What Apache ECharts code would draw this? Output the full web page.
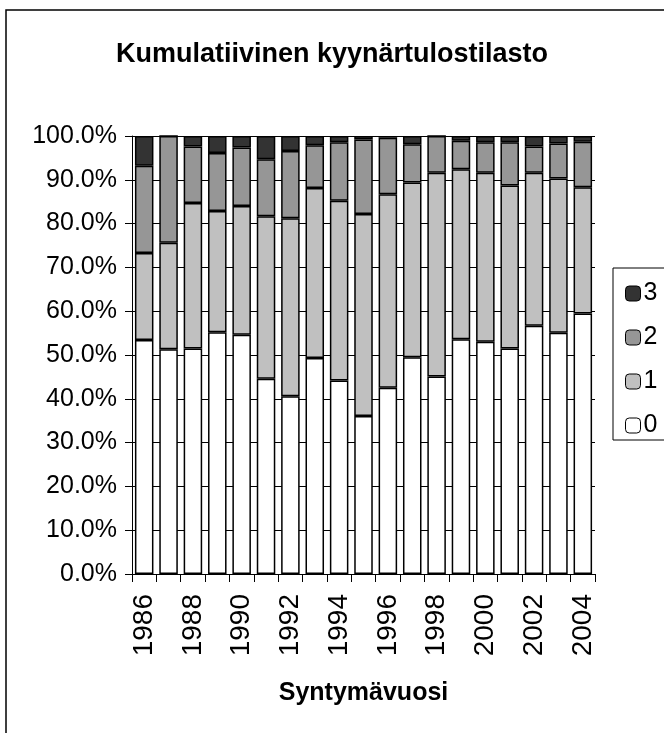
<!DOCTYPE html>
<html>
<head>
<meta charset="utf-8">
<script src="https://cdn.jsdelivr.net/npm/echarts@6/dist/echarts.min.js"></script>
<style>html,body{margin:0;padding:0;background:#fff;}#c{width:664px;height:733px;}</style>
</head>
<body>
<div id="c"></div>
<script>
var years = ['1986','1987','1988','1989','1990','1991','1992','1993','1994','1995','1996','1997','1998','1999','2000','2001','2002','2003','2004'];
var s0 = [53.4,51.3,51.5,55.2,54.6,44.6,40.6,49.3,44.2,36.1,42.5,49.5,45.1,53.6,53.0,51.5,56.7,55.1,59.5];
var s1 = [19.9,24.3,33.2,27.7,29.4,37.1,40.6,38.8,41.0,46.1,44.2,39.9,46.5,38.8,38.6,37.2,34.9,35.2,28.8];
var s2 = [19.9,24.4,12.9,13.2,13.4,13.0,15.4,9.8,13.4,17.0,12.9,8.7,8.4,6.5,7.0,9.9,6.0,8.0,10.4];
var s3 = [6.8,0.0,2.4,3.9,2.6,5.3,3.4,2.1,1.4,0.8,0.4,1.9,0.0,1.1,1.4,1.4,2.4,1.7,1.3];
var seriesNames = ['0','1','2','3'];
var seriesColors = ['#ffffff','#c0c0c0','#969696','#333333'];

var FONT = 'Liberation Sans, Arial, sans-serif';
var chart = echarts.init(document.getElementById('c'), null, {renderer:'canvas'});
var datas = [s0, s1, s2, s3];
var series = datas.map(function(d, i){
  return {
    name: seriesNames[i], type: 'bar', stack: 'all', data: d,
    barCategoryGap: '24%',
    itemStyle: {color: seriesColors[i], borderColor: '#000', borderWidth: 1.5},
    emphasis: {disabled: true}
  };
});
chart.setOption({
  animation: false,
  backgroundColor: '#fff',
  title: {text: 'Kumulatiivinen kyynärtulostilasto', left: 'center', top: 36,
    textStyle: {fontFamily: FONT, fontSize: 27, fontWeight: 'bold', color: '#000'}},
  legend: {orient: 'vertical', left: 620, top: 276, itemWidth: 15, itemHeight: 15, itemGap: 19,
    data: ['3','2','1','0'],
    textStyle: {fontFamily: FONT, fontSize: 25, color: '#000', padding: [0,0,0,-2]},
    itemStyle: {borderColor: '#000', borderWidth: 1}},
  grid: {left: 132, right: 69, top: 136, bottom: 159},
  xAxis: {type: 'category', data: years,
    name: 'Syntymävuosi', nameLocation: 'middle', nameGap: 107,
    nameTextStyle: {fontFamily: FONT, fontSize: 25, fontWeight: 'bold', color: '#000'},
    axisLine: {lineStyle: {color: '#000', width: 1}},
    axisTick: {show: true, interval: 0, length: 8, lineStyle: {color: '#000'}},
    axisLabel: {interval: 1, rotate: 90, fontFamily: FONT, fontSize: 28, color: '#000', margin: 20}},
  yAxis: {type: 'value', min: 0, max: 100, interval: 10,
    axisLine: {show: true, lineStyle: {color: '#000', width: 1}},
    axisTick: {show: true, length: 7, lineStyle: {color: '#000'}},
    splitLine: {show: true, lineStyle: {color: '#000', width: 1}},
    axisLabel: {fontFamily: FONT, fontSize: 25, color: '#000', margin: 15,
      formatter: function(v){ return v.toFixed(1) + '%'; }}},
  series: series,
  graphic: [
    {type: 'rect', shape: {x: 6, y: 10, width: 700, height: 800}, style: {fill: 'none', stroke: '#000', lineWidth: 1.5}, silent: true},
    {type: 'rect', shape: {x: 613, y: 268, width: 100, height: 172}, style: {fill: 'none', stroke: '#000', lineWidth: 1}, silent: true}
  ]
});
</script>
</body>
</html>
